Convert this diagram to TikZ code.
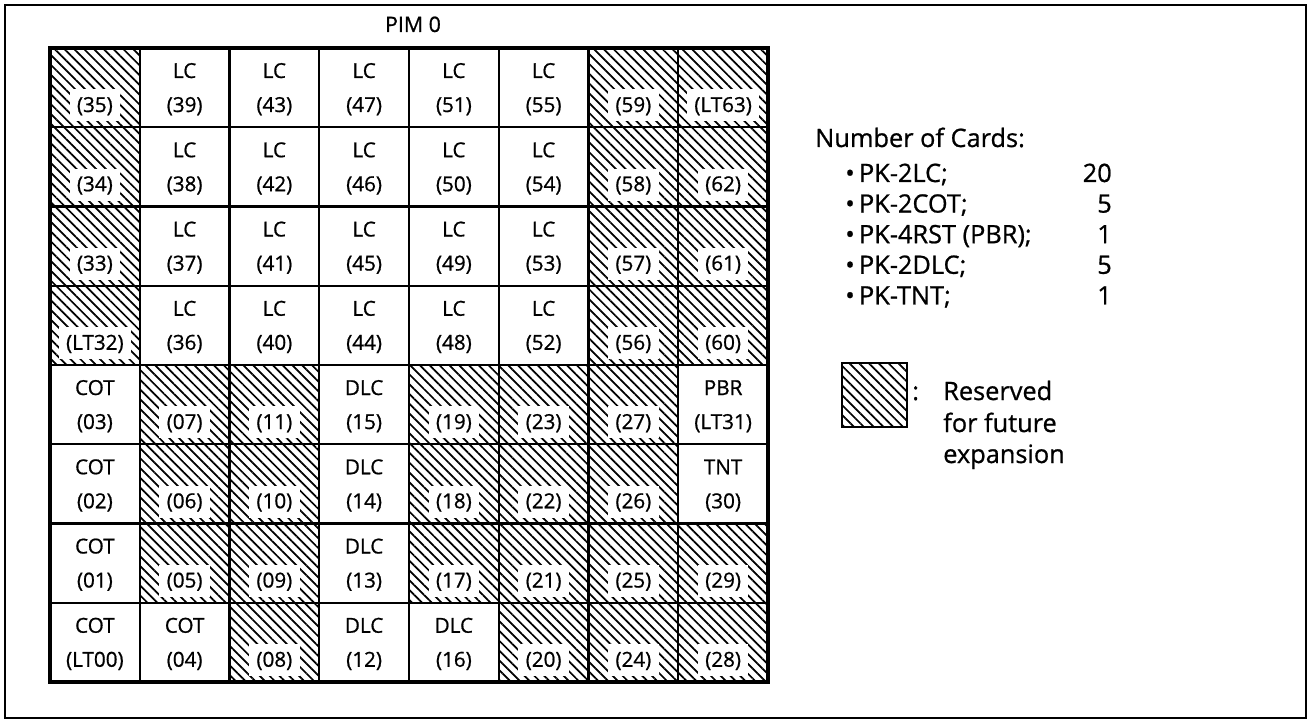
\documentclass[tikz,border=0pt]{standalone}
\usepackage{fontspec}
\setmainfont{Open Sans}[FakeBold=0.8]
\newfontfamily\heavy{Open Sans}[FakeBold=0.8]
\usetikzlibrary{patterns.meta}
\begin{document}
\begin{tikzpicture}[x=0.75pt,y=-0.75pt,
  every node/.style={font=\heavy},
  cellbox/.style={draw=none, minimum width=67.31pt, minimum height=59.44pt, anchor=north west, inner sep=0pt, outer sep=0pt},
  hatched/.style={pattern={Lines[angle=-45,distance=5.2pt,line width=1.3pt]}},
  celltxt/.style={font=\heavy\fontsize{15.5}{17}\selectfont, inner sep=0pt, anchor=base},
  patch/.style={celltxt, fill=white, inner xsep=5.5pt, inner ysep=0pt, text height=17pt, text depth=7pt},
  legtxt/.style={font=\heavy\fontsize{19}{21}\selectfont, inner sep=0pt, anchor=base west},
  legnum/.style={font=\heavy\fontsize{19}{21}\selectfont, inner sep=0pt, anchor=base east},
  gridline/.style={line width=1.6pt},
  outerline/.style={line width=3.6pt},
]
\useasboundingbox (0,0) rectangle (1309,720);
% outer frame
\draw[line width=1.5pt] (5,5) rectangle (1306,718);
% title
\node[font=\heavy\fontsize{16}{18}\selectfont, inner sep=0pt, anchor=base] (title) at (413,32) {PIM 0};

% plain cells
\foreach \c/\r/\ta/\tb in {
  1/0/LC/(39), 2/0/LC/(43), 3/0/LC/(47), 4/0/LC/(51), 5/0/LC/(55),
  1/1/LC/(38), 2/1/LC/(42), 3/1/LC/(46), 4/1/LC/(50), 5/1/LC/(54),
  1/2/LC/(37), 2/2/LC/(41), 3/2/LC/(45), 4/2/LC/(49), 5/2/LC/(53),
  1/3/LC/(36), 2/3/LC/(40), 3/3/LC/(44), 4/3/LC/(48), 5/3/LC/(52),
  0/4/COT/(03), 3/4/DLC/(15), 7/4/PBR/(LT31),
  0/5/COT/(02), 3/5/DLC/(14), 7/5/TNT/(30),
  0/6/COT/(01), 3/6/DLC/(13),
  0/7/COT/(LT00), 1/7/COT/(04), 3/7/DLC/(12), 4/7/DLC/(16)}{
  \node[cellbox] (cell-\c-\r) at ({50+89.75*\c},{48+79.25*\r}) {};
  \node[celltxt] (top-\c-\r) at ({50+89.75*\c+44.875},{48+79.25*\r+30}) {\ta};
  \node[celltxt] (lab-\c-\r) at ({50+89.75*\c+44.875},{48+79.25*\r+64}) {\tb};
}

% hatched (reserved) cells
\foreach \c/\r/\tb in {
  0/0/(35), 6/0/(59), 7/0/(LT63),
  0/1/(34), 6/1/(58), 7/1/(62),
  0/2/(33), 6/2/(57), 7/2/(61),
  0/3/(LT32), 6/3/(56), 7/3/(60),
  1/4/(07), 2/4/(11), 4/4/(19), 5/4/(23), 6/4/(27),
  1/5/(06), 2/5/(10), 4/5/(18), 5/5/(22), 6/5/(26),
  1/6/(05), 2/6/(09), 4/6/(17), 5/6/(21), 6/6/(25), 7/6/(29),
  2/7/(08), 5/7/(20), 6/7/(24), 7/7/(28)}{
  \node[cellbox, hatched] (cell-\c-\r) at ({50+89.75*\c},{48+79.25*\r}) {};
  \node[patch] (lab-\c-\r) at ({50+89.75*\c+44.875},{48+79.25*\r+64}) {\tb};
}

% grid lines
\foreach \c in {0,...,7}{
  \foreach \r in {0,...,7}{
    \draw[gridline] (cell-\c-\r.north west) rectangle (cell-\c-\r.south east);
  }
}
\draw[outerline] (cell-0-0.north west) rectangle (cell-7-7.south east);

% legend: number of cards
\node[legtxt] (numcards) at (815,147) {Number of Cards:};
\foreach \k/\name/\num in {0/PK-2LC;/20, 1/PK-2COT;/5, 2/PK-4RST (PBR);/1, 3/PK-2DLC;/5, 4/PK-TNT;/1}{
  \node[legtxt] (item-\k) at (845,{182+30.6*\k}) {\textbullet\,\name};
  \node[legnum] (num-\k) at (1112,{182+30.6*\k}) {\num};
}

% legend: reserved
\node[draw, hatched, line width=1.5pt, minimum width=48.75pt, minimum height=48pt, inner sep=0pt] (legbox) at (874.5,395) {};
\node[legtxt] (colon) at (912,400) {:};
\node[legtxt] (res1) at (943,400) {Reserved};
\node[legtxt] (res2) at (943,432) {for future};
\node[legtxt] (res3) at (943,463) {expansion};
\end{tikzpicture}
\end{document}
